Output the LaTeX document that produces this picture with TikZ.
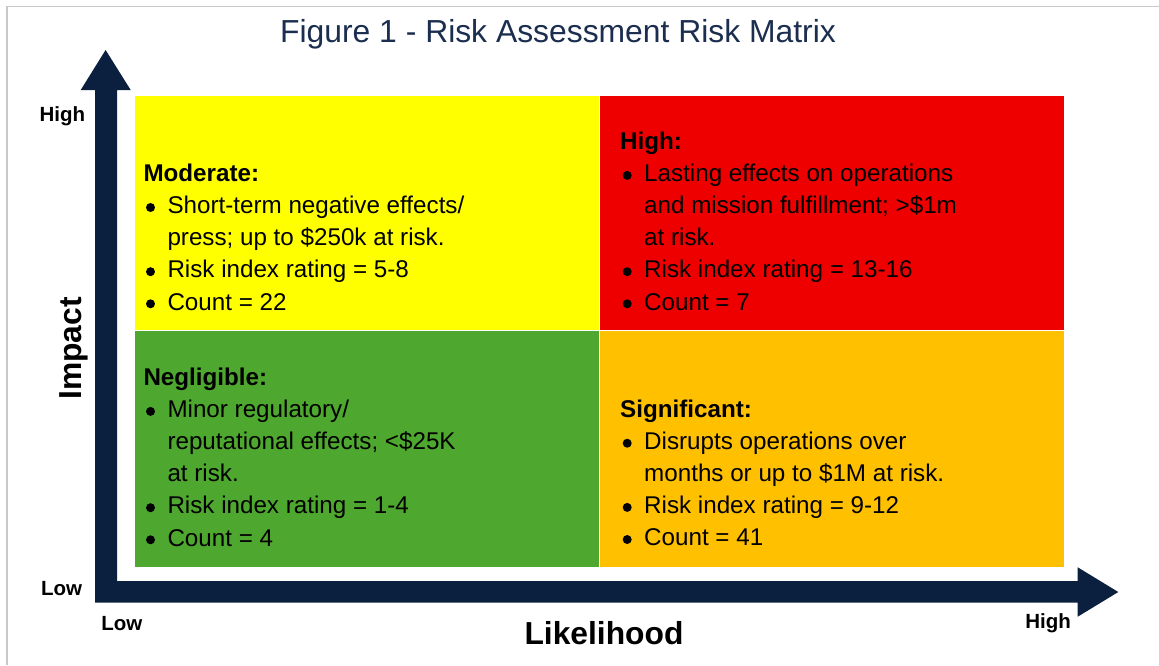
\documentclass[tikz,border=0pt]{standalone}
\usepackage{fontspec}
\setmainfont{Liberation Sans}

\definecolor{axisnavy}{HTML}{0B1F3E}
\definecolor{titleblue}{HTML}{1B2E4F}
\definecolor{qyellow}{HTML}{FFFF00}
\definecolor{qred}{HTML}{EE0000}
\definecolor{qgreen}{HTML}{4EA72E}
\definecolor{qorange}{HTML}{FFC000}
\definecolor{framegray}{HTML}{C8C8C8}

% bullet dot and hanging indent for the quadrant lists
\newcommand\qbul{\makebox[24pt][l]{\hspace{2.5pt}\tikz[baseline=0pt]\fill[black] (4.5pt,6.2pt) circle (4.5pt);}}
\newcommand\qind{\hspace*{24pt}}

\tikzset{
  qtext/.style={anchor=base west, inner sep=0pt, text=black,
    font=\fontsize{24.2}{32.1}\selectfont},
  axlbl/.style={anchor=base west, inner sep=0pt, text=black,
    font=\bfseries\fontsize{20.5}{24}\selectfont},
  axtitle/.style={anchor=base, inner sep=0pt, text=black,
    font=\bfseries\fontsize{31.8}{36}\selectfont},
}

\begin{document}
\begin{tikzpicture}[x=1pt,y=-1pt]
\useasboundingbox (0,0) rectangle (1159,665);
\fill[white] (0,0) rectangle (1159,665);

% outer frame
\draw[framegray, line width=1.3pt] (7,665) -- (7,6.7) -- (1159,6.7);

% title
\node[anchor=base, inner sep=0pt, text=titleblue,
      font=\fontsize{31.85}{36}\selectfont] (title) at (558,42)
      {Figure 1 - Risk Assessment Risk Matrix};

% quadrants
\fill[qyellow] (135,96) rectangle (599.3,330.8);
\fill[qred]    (599.3,96) rectangle (1064,330.8);
\fill[qgreen]  (135,330.8) rectangle (599.3,566.7);
\fill[qorange] (599.3,330.8) rectangle (1064,566.7);
\draw[white, line width=1.2pt] (599.3,96) -- (599.3,566.7);
\draw[white, line width=1.2pt] (135,330.8) -- (1064,330.8);

% axes: one L-shaped double arrow
\fill[axisnavy]
  (105.6,50) -- (130.7,90) -- (117,90) -- (117,581)
  -- (1077.7,581) -- (1077.7,567.3) -- (1118.3,592)
  -- (1077.7,616.7) -- (1077.7,602.7) -- (95,602.7)
  -- (95,90) -- (80.7,90) -- cycle;

% axis labels
\node[axlbl] (yhigh) at (39.3,121) {High};
\node[axlbl] (ylow)  at (40.8,595) {Low};
\node[axlbl] (xlow)  at (101.2,630) {Low};
\node[axlbl] (xhigh) at (1025.2,628.5) {High};
\node[axtitle] (xtitle) at (604,644) {Likelihood};
\node[axtitle, rotate=90] (ytitle) at (81.7,348.5) {Impact};

% quadrant texts
\node[qtext] (moderate) at (143.3,181.6) {\vtop{%
  \hbox{\bfseries Moderate:}
  \hbox{\qbul Short-term negative effects/}
  \hbox{\qind press; up to \$250k at risk.}
  \hbox{\qbul Risk index rating = 5-8}
  \hbox{\qbul Count = 22}}};

\node[qtext] (high) at (620,149.5) {\vtop{%
  \hbox{\bfseries High:}
  \hbox{\qbul Lasting effects on operations}
  \hbox{\qind and mission fulfillment; >\$1m}
  \hbox{\qind at risk.}
  \hbox{\qbul Risk index rating = 13-16}
  \hbox{\qbul Count = 7}}};

\node[qtext] (negligible) at (143.3,385.5) {\vtop{%
  \hbox{\bfseries Negligible:}
  \hbox{\qbul Minor regulatory/}
  \hbox{\qind reputational effects; <\$25K}
  \hbox{\qind at risk.}
  \hbox{\qbul Risk index rating = 1-4}
  \hbox{\qbul Count = 4}}};

\node[qtext] (significant) at (620,417.3) {\vtop{%
  \hbox{\bfseries Significant:}
  \hbox{\qbul Disrupts operations over}
  \hbox{\qind months or up to \$1M at risk.}
  \hbox{\qbul Risk index rating = 9-12}
  \hbox{\qbul Count = 41}}};
\end{tikzpicture}
\end{document}
